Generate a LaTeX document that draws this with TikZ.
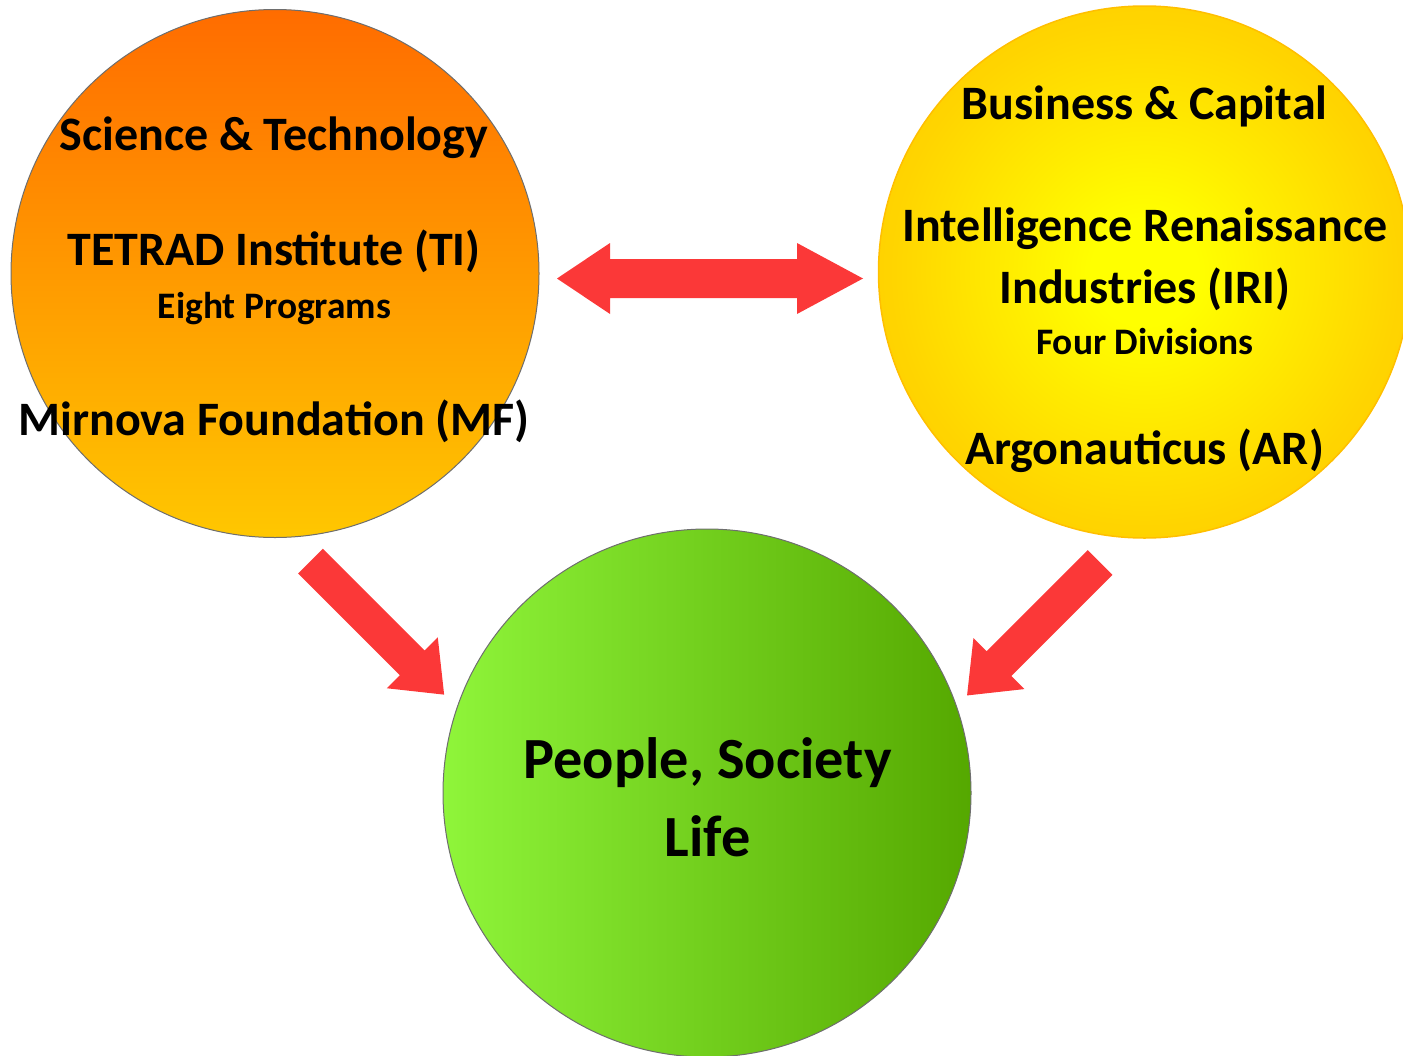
\documentclass[tikz,border=0pt]{standalone}
\usepackage{fontspec}
\setmainfont{Carlito}
\definecolor{orTop}{HTML}{FF6C00}
\definecolor{orBot}{HTML}{FFC700}
\definecolor{yCen}{HTML}{FFFF00}
\definecolor{yIn}{HTML}{FFEC00}
\definecolor{yMid}{HTML}{FFD400}
\definecolor{yOut}{HTML}{FFC800}
\definecolor{yEdge}{HTML}{FFBF00}
\definecolor{gL}{HTML}{8FF53A}
\definecolor{gR}{HTML}{55A800}
\definecolor{arr}{HTML}{FB3838}
\definecolor{rim}{HTML}{6E6E6E}
\pgfdeclareradialshading{yelrad}{\pgfpoint{0bp}{0bp}}{color(0bp)=(yCen); color(5bp)=(yCen); color(13bp)=(yIn); color(24bp)=(yMid); color(37bp)=(yOut); color(50bp)=(yEdge)}
\newcommand\myBlockArrow[6]{%
  \begin{scope}[shift={(#1)},rotate=#2]
    \fill[arr] (0,-#4) -- (#3-#6,-#4) -- (#3-#6,-#5) -- (#3,0) -- (#3-#6,#5) -- (#3-#6,#4) -- (0,#4) -- cycle;
  \end{scope}}
\tikzset{
  big/.style={anchor=base, inner sep=0pt, font=\bfseries\fontsize{48}{52}\selectfont},
  small/.style={anchor=base, inner sep=0pt, font=\bfseries\fontsize{37.4}{42}\selectfont},
  huge/.style={anchor=base, inner sep=0pt, font=\bfseries\fontsize{58.3}{63}\selectfont},
  disc/.style={circle, inner sep=0pt, minimum size=#1}
}
\begin{document}
\begin{tikzpicture}[x=1pt,y=-1pt]
\useasboundingbox (0,0) rectangle (1403,1055);
\begin{scope}
\clip (0,0) rectangle (1403,1055);
% circles
\node[disc=528pt, draw=rim, line width=1pt, top color=orTop, bottom color=orBot] (st) at (275,273.5) {};
\node[disc=532pt, draw=yEdge, line width=1.5pt, shading=yelrad] (bc) at (1144.5,272) {};
\node[disc=528pt, draw=rim, line width=1pt, left color=gL, right color=gR] (ps) at (707,793) {};
% arrows
\fill[arr] (557,278.5) -- (610,243) -- (610,259) -- (797,259) -- (797,243) -- (863,278.5)
  -- (797,314) -- (797,298) -- (610,298) -- (610,314) -- cycle;
\myBlockArrow{310.5,561}{-45}{189}{17.5}{36}{45}
\myBlockArrow{1100,562.5}{-135}{188}{17.5}{36}{45}
\end{scope}
% texts
\node[big] (t1) at (274,150) {Science \& Technology};
\node[big] (t2) at (274,265) {TETRAD Institute (TI)};
\node[small] (t3) at (274.5,318) {Eight Programs};
\node[big] (t4) at (274,435) {Mirnova Foundation (MF)};
\node[big] (u1) at (1144.5,119) {Business \& Capital};
\node[big] (u2) at (1145,241) {Intelligence Renaissance};
\node[big] (u3) at (1145,303) {Industries (IRI)};
\node[small] (u4) at (1145,354) {Four Divisions};
\node[big] (u5) at (1144.5,464) {Argonauticus (AR)};
\node[huge] (v1) at (707.5,778) {People, Society};
\node[huge] (v2) at (707.5,856) {Life};
\end{tikzpicture}
\end{document}
